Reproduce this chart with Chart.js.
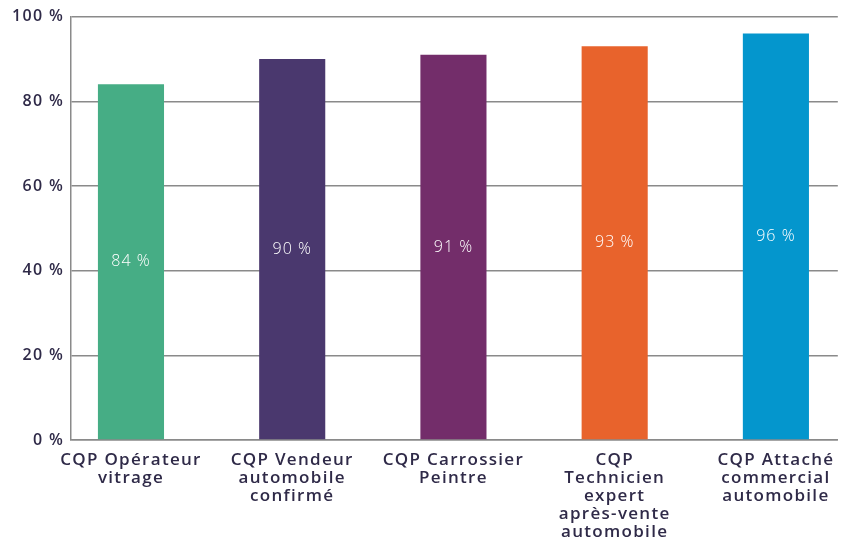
<!DOCTYPE html>
<html>
<head>
<meta charset="utf-8">
<script src="https://cdn.jsdelivr.net/npm/chart.js@4.4.1/dist/chart.umd.min.js"></script>
<style>
  html, body { margin: 0; padding: 0; background: #ffffff; }
  #wrap { width: 846px; height: 540px; }
</style>
</head>
<body>
<div id="wrap"><canvas id="monChart"></canvas></div>
<script>
const categories = [
    ['CQP Opérateur', 'vitrage'],
    ['CQP Vendeur', 'automobile', 'confirmé'],
    ['CQP Carrossier', 'Peintre'],
    ['CQP', 'Technicien', 'expert', 'après-vente', 'automobile'],
    ['CQP Attaché', 'commercial', 'automobile']
];
const valeurs = [84, 90, 91, 93, 96];
const etiquettes = ['84 %', '90 %', '91 %', '93 %', '96 %'];
const couleurs = ['#46ad85', '#4a386e', '#732d6a', '#e8632c', '#0496cd'];
const ticksY = [0, 20, 40, 60, 80, 100];

const texteSombre = '#2f2a48';
const police = '"Open Sans", Inter, sans-serif';

// texte un peu espacé, comme la police d'origine
const espacement = {
    id: 'espacement',
    beforeLayout(chart) { chart.ctx.letterSpacing = '1.3px'; },
    beforeDraw(chart) { chart.ctx.letterSpacing = '1.3px'; }
};

// étiquettes blanches au milieu des barres
const etiquettesBarres = {
    id: 'etiquettesBarres',
    afterDatasetsDraw(chart) {
        const ctx = chart.ctx;
        const meta = chart.getDatasetMeta(0);
        ctx.save();
        ctx.letterSpacing = '1px';
        ctx.fillStyle = '#ffffff';
        ctx.font = '300 16px ' + police;
        ctx.textAlign = 'center';
        ctx.textBaseline = 'middle';
        meta.data.forEach((bar, i) => {
            const milieu = (bar.y + bar.base) / 2;
            ctx.fillText(etiquettes[i], bar.x, milieu);
        });
        ctx.restore();
    }
};

function afficherChart() {
    const ctx = document.getElementById('monChart').getContext('2d');
    new Chart(ctx, {
        type: 'bar',
        data: {
            datasets: [{
                data: valeurs.map((v, i) => ({ x: i, y: v })),
                backgroundColor: couleurs,
                barPercentage: 0.41,
                categoryPercentage: 1
            }]
        },
        options: {
            responsive: true,
            maintainAspectRatio: false,
            animation: false,
            layout: { padding: { top: 8, right: 8, left: 0, bottom: 0 } },
            plugins: {
                legend: { display: false },
                tooltip: { enabled: false }
            },
            scales: {
                x: {
                    type: 'linear',
                    offset: false,
                    min: -0.372,
                    max: 4.384,
                    afterBuildTicks: (scale) => {
                        scale.ticks = categories.map((c, i) => ({ value: i }));
                    },
                    afterFit: (scale) => { scale.height = 100; },
                    grid: { display: false, drawTicks: false },
                    border: { display: true, color: '#8a8a8a', width: 1.5 },
                    ticks: {
                        autoSkip: false,
                        maxRotation: 0,
                        padding: 11,
                        color: texteSombre,
                        font: { family: police, size: 17, weight: '600', lineHeight: '18px' },
                        callback: (v) => categories[v]
                    }
                },
                y: {
                    min: 0,
                    max: 100,
                    afterBuildTicks: (scale) => {
                        scale.ticks = ticksY.map(v => ({ value: v }));
                    },
                    afterFit: (scale) => { scale.width = 71; },
                    grid: { color: '#8a8a8a', lineWidth: 1.5, drawTicks: false },
                    border: { display: true, color: '#8a8a8a', width: 1.5 },
                    ticks: {
                        padding: 7,
                        color: texteSombre,
                        font: { family: police, size: 16, weight: '600' },
                        callback: (v) => v + ' %'
                    }
                }
            }
        },
        plugins: [espacement, etiquettesBarres]
    });
}

document.addEventListener('DOMContentLoaded', afficherChart);
</script>
</body>
</html>
